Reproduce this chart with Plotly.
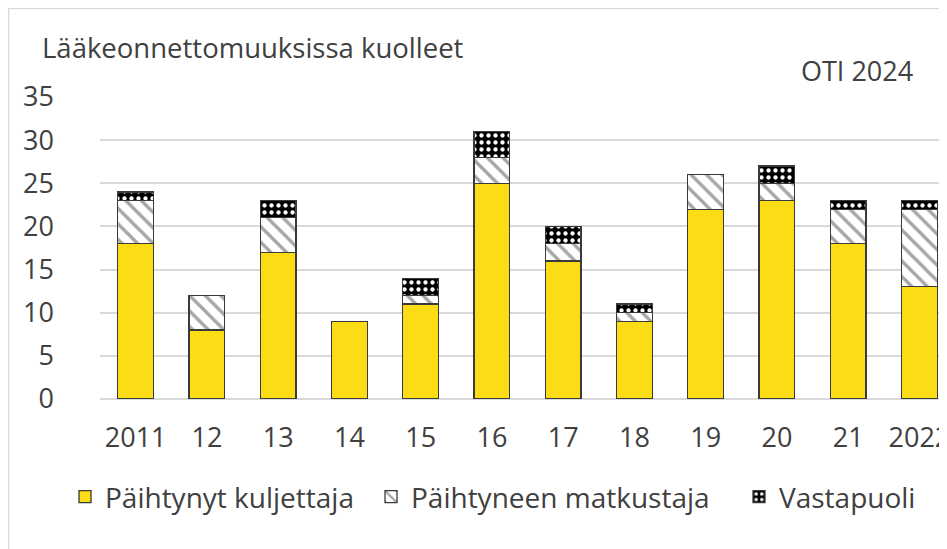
import plotly.graph_objects as go

years = ["2011", "12", "13", "14", "15", "16", "17", "18", "19", "20", "21", "2022"]
kuljettaja = [18, 8, 17, 9, 11, 25, 16, 9, 22, 23, 18, 13]
matkustaja = [5, 4, 4, 0, 1, 3, 2, 1, 4, 2, 4, 9]
vastapuoli = [1, 0, 2, 0, 2, 3, 2, 1, 0, 2, 1, 1]

FONT = "Open Sans, Noto Sans, sans-serif"
TXT = "#404040"
FS = 27
W, H = 947, 549
L, R, T, B = 92, 0, 89, 158
PW, PH = W - L - R, H - T - B

def px2x(px):
    return (px - L) / PW

def py2y(py):
    return (H - B - py) / PH

line = dict(color="#3a3a3a", width=1.3)
fig = go.Figure()
fig.add_trace(go.Bar(x=years, y=kuljettaja, name="Päihtynyt kuljettaja", legend="legend",
                     marker=dict(color="#FCDC14", line=line)))
fig.add_trace(go.Bar(x=years, y=matkustaja, name="Päihtyneen matkustaja", legend="legend2",
                     marker=dict(color="white", line=line,
                                 pattern=dict(shape="\\", fgcolor="#A6A6A6", bgcolor="white",
                                              size=11, solidity=0.3, fillmode="replace"))))
fig.add_trace(go.Bar(x=years, y=vastapuoli, name="Vastapuoli", legend="legend3",
                     marker=dict(color="black", line=line,
                                 pattern=dict(shape=".", fgcolor="white", bgcolor="black",
                                              size=7, solidity=0.3, fillmode="replace"))))

def leg(xpx):
    return dict(orientation="h", x=px2x(xpx), xanchor="left", y=py2y(489), yanchor="middle",
                font=dict(size=28, color=TXT), itemwidth=30, bgcolor="rgba(0,0,0,0)")

fig.update_layout(
    width=W, height=H, barmode="stack", bargap=0.5,
    margin=dict(l=L, r=R, t=T, b=B),
    plot_bgcolor="white", paper_bgcolor="white",
    font=dict(family=FONT, size=FS, color=TXT),
    xaxis=dict(range=[-0.5, 11.5], showgrid=False, ticks="", showline=False,
               tickfont=dict(size=FS, color=TXT), ticklabelstandoff=20),
    yaxis=dict(range=[0, 35], dtick=5, showgrid=True, gridcolor="#D9D9D9", gridwidth=2,
               zeroline=True, zerolinecolor="#D9D9D9", zerolinewidth=2,
               tickfont=dict(size=FS, color=TXT), ticklabelstandoff=45),
    legend=leg(57), legend2=leg(363), legend3=leg(731),
    showlegend=True,
)

fig.add_annotation(text="Lääkeonnettomuuksissa kuolleet", xref="paper", yref="paper",
                   x=px2x(32), y=py2y(40), xanchor="left", yanchor="middle",
                   showarrow=False, font=dict(size=27.5, color=TXT))
fig.add_annotation(text="OTI 2024", xref="paper", yref="paper",
                   x=px2x(907), y=py2y(62), xanchor="right", yanchor="middle",
                   showarrow=False, font=dict(size=FS, color=TXT))

fig.add_shape(type="rect", xref="paper", yref="paper", x0=px2x(0.5), x1=px2x(W - 0.5),
              y0=py2y(H - 0.5), y1=py2y(0.5), line=dict(color="#D9D9D9", width=1.5),
              layer="below")

fig.write_html("out.html")
